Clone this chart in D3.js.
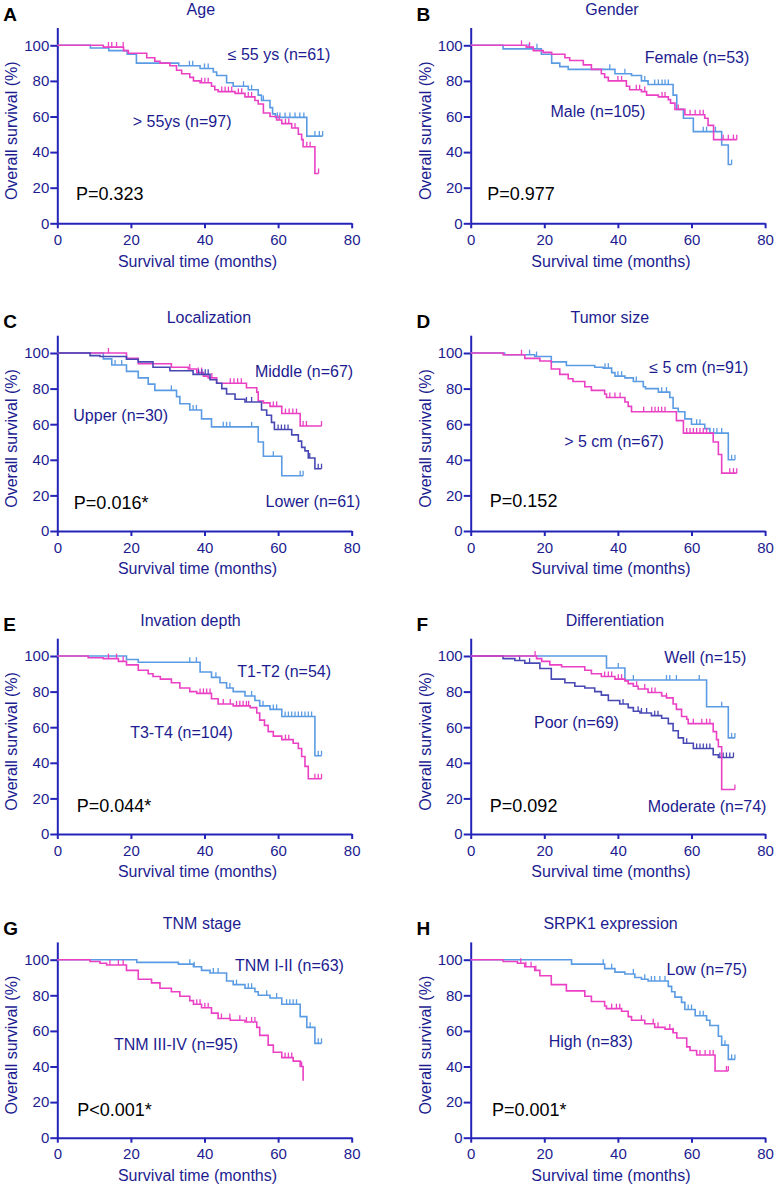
<!DOCTYPE html>
<html><head><meta charset="utf-8">
<script src="https://cdn.jsdelivr.net/npm/d3@7/dist/d3.min.js"></script>
<style>body{margin:0;background:#fff}svg{display:block}text{font-family:"Liberation Sans",Arial,sans-serif}</style>
</head><body>
<script>
// ---------- DATA (drops: [time, survival after drop]; censor: times) ----------
const xTicks = [0, 20, 40, 60, 80];
const yTicks = [0, 20, 40, 60, 80, 100];

const ageLowDrops = [[9,98.5],[14,97],[19,95],[21.5,90],[33,88.5],[38.8,87],[42.4,85],[43.3,83],[46,79],[47.8,77],[51.9,75],[54.6,72],[55.5,69],[57.8,65],[58.5,61.5],[59.3,59.5],[67.8,49]];
const ageLowCensor = [35.9,36.8,40,41,50.6,52.8,56,59.8,60.5,61.9,63.2,64.6,65.9,67,70,71.2,72.1];
const ageHighDrops = [[12.5,99],[18,97],[19.3,95.5],[24.3,93],[26.5,91],[27.9,90],[30.6,88.5],[32.4,86],[33.8,84],[36,82],[37,80],[38.8,79],[41.9,77],[42.8,75],[43.7,74],[48.3,73],[51,71],[53.7,69],[54.6,67],[56,62],[57.8,60],[59.6,58],[61,56],[63.7,53.5],[65.5,50],[66.4,47],[66.8,43],[70,28]];
const ageHighCensor = [13.9,14.8,16.1,17.9,39.2,40.1,41,44.7,45.6,46.5,47.4,49.2,50.1,51.9,52.8,60.3,62,62.9,64.6,67.8,68.7,71];

const femaleDrops = [[8.8,98],[19.2,95],[22,90],[24.2,88],[26.5,86.5],[39.2,84],[43.7,83],[46.4,80],[48.2,78],[55,72],[56,64],[57.8,59],[60.5,51.5],[68.2,44],[70,33]];
const femaleCensor = [15.6,18,37.8,41.9,47.3,50,51,52,52.8,53.7,63.2,64.1,66.5,70.9];
const maleDrops = [[15.1,99],[17,97],[19.7,96],[22,95],[25.6,93],[26.9,91.5],[30.6,89],[32.8,86.5],[35.5,84],[36.4,82],[37.4,80],[42.3,77],[43.2,75],[46.4,74],[47.8,72],[51,71],[53.7,69.5],[54.3,67.5],[55.5,64],[58.2,61],[63.6,59],[64.5,55],[66,47]];
const maleCensor = [13.8,16,40,41,45,45.9,47.3,52,52.8,56.4,59.6,61,62.3,63.2,68.6,70,71.4,72.3];

const middleDrops = [[18.8,97],[22,94],[31,92],[35.6,91],[37.9,89],[39.7,87],[41,86],[43.3,83],[51.4,80.5],[54.2,78],[54.6,73],[56,72],[57.8,70],[61,66],[66,59]];
const middleCensor = [13.9,36,38.3,39.2,42,47,48,49,50,58.7,59.6,62,63,64,65,66.8,67.7,71.8];
const lowerDrops = [[8.9,98.5],[11.6,98],[18.8,96.5],[22,95],[26,92],[30.6,90],[36.9,88],[41.5,85],[43.3,83],[44.7,80],[46,77],[48.3,74],[51,72.5],[55.5,68],[56.9,65],[58.2,61],[59,57],[63.7,54],[65.5,50.5],[66.4,47],[67.3,45],[68.2,41],[70,35]];
const lowerCensor = [38.4,39.3,40.2,41,51.4,52.8,60,60.9,61.8,62.7,68.6,70.9,71.8];
const upperDrops = [[12.5,96.7],[14.8,93.3],[18.8,89.7],[22,86],[24.7,82.5],[26.5,79],[32.4,75.5],[33.3,71.5],[36,68],[39.2,63],[41.9,58.5],[54.6,50],[56,42],[61,31]];
const upperCensor = [15.7,17.5,31,36.9,37.8,45.1,46,46.9,52.8,58.7,66,66.8];

const smallDrops = [[9.2,99],[17.4,98],[21.9,95],[26,93],[33.7,92],[36,91.5],[38.3,89],[39.2,87],[41.9,86],[44.2,84],[46.9,81],[47.5,80],[51,78],[54.1,75],[55,69],[56.4,67],[58.2,63],[60,60],[63.6,57.5],[65,55],[70,40]];
const smallCensor = [16,17.9,36.5,37.4,40,41,45,51.9,53.2,61.4,62.3,66,66.9,68.2,70.9,71.8];
const largeDrops = [[8.8,99],[14.7,97],[18.8,95.5],[21.9,91],[24.2,88],[26.5,85.5],[27.8,84],[31,81],[32.8,79],[36.4,77],[36.9,75],[41.9,72.5],[42.8,70],[43.7,67],[55.9,62],[57.8,55],[65.9,50],[67.3,43],[68.2,32.5]];
const largeCensor = [13.8,37.8,39.2,40.6,47,49.2,50.1,51,51.9,52.8,58.7,59.6,60.5,61.4,62.3,63.2,64.1,70.4,71.4,72.3];

const t12Drops = [[18.8,98],[22,96.5],[38.8,91],[41.9,88],[44.2,85],[46,82],[47.8,80],[51,77.5],[53.7,75],[55,72],[57.8,70],[61,66],[70,44]];
const t12Censor = [36,37.8,43.1,46.9,52.8,55.9,58.7,59.6,61.9,62.8,63.7,64.6,65.5,66.4,67.3,68.2,69.1,70.9,71.8];
const t34Drops = [[8.4,99],[12.5,98.5],[16.6,97],[18.8,95],[22,92],[24.7,90],[26,88.5],[28,87],[31,85],[33.3,82],[36,80],[37.9,79],[41.9,76],[43.7,73],[47.8,72],[52.4,71],[54.2,68],[55,64],[56.3,61],[57.3,57.5],[58.7,55],[61,53],[64.1,51],[65.5,48],[66.4,43.5],[67.3,38],[68.2,31]];
const t34Censor = [13.9,16.1,17.9,38.8,39.7,40.6,41.5,45.1,47,48.7,49.6,50.5,51.4,52,62,62.9,70,70.9,71.8];

const wellDrops = [[36.9,93.3],[41.9,86.5],[64.1,71.5],[70,54]];
const wellCensor = [40.1,44.2,53.2,54.1,55.9,62.1,68.2,70.9,71.8];
const moderateDrops = [[17.9,98.5],[19.3,97],[21.5,95],[24.7,94],[31,92],[32.8,90],[35.5,88.5],[39.2,87],[41.9,86],[42.8,84.5],[44.2,83],[45.5,81.5],[48.2,79.5],[51.9,77.5],[53.2,76.5],[55,73],[55.9,70],[57.3,66],[58.7,64.5],[59.1,62],[65.9,57.5],[66.8,53],[67.3,49],[68.2,25]];
const moderateCensor = [17.5,36.4,37.4,38.3,40.1,41,45.1,47.3,49.2,50.1,53.2,60.5,62.8,64.1,65,71.8];
const poorDrops = [[8.8,98.5],[12,97.5],[14.7,96],[18.8,93],[21.9,87],[25.6,85],[28.3,83],[31,82],[33.7,80],[35.5,78],[37.4,75],[40.5,73],[42.8,71],[44.2,69],[46,68],[49.1,66.5],[51.9,65],[53.7,62],[55,58],[56.4,54],[57.8,51],[60.5,48],[65.9,44.5],[67.3,43]];
const poorCensor = [13.3,16,41.4,45.5,46.4,47.8,50,50.9,58.7,61.4,62.3,63.2,64.1,65,67.7,68.6,69.5,70.4,71.4];

const tnm12Drops = [[21.6,98.5],[32.9,97.5],[37,96],[39.2,94],[41.5,92.5],[46,88],[47.8,86],[51,84],[53.7,82],[54.6,80],[57.8,78.5],[61,75],[66,68],[67.8,62],[70,53]];
const tnm12Censor = [36,37.2,42.4,43.7,48.7,51.9,52.8,56.9,59.6,62.3,63.2,64.1,65,68.7,70.9,71.8];
const tnm34Drops = [[8.9,99],[11.6,98],[13.4,97],[18.8,94],[22,89],[25.6,87],[27.9,84],[31,82],[33.3,79.5],[36,77],[37,75],[39.2,73],[41.9,70],[43.7,67],[47,66],[51,65],[54.2,62],[55,57.5],[57.3,52],[58.7,48],[61,45],[64.1,43],[66,40],[66.8,32]];
const tnm34Censor = [14.3,16.6,17.9,37.9,38.8,40.1,41,44.6,46.9,49.6,51.4,52.8,53.7,61.9,62.8,63.7,66.4];

const lowExpDrops = [[27.4,97.5],[36.4,95],[39.2,93],[41.9,92],[44.6,90],[46.4,89],[48.2,88],[53.7,85],[54.6,82],[55.5,79],[57.3,76],[58.2,72],[61,68.5],[64.1,66],[65,63],[67.3,57],[68.2,52],[70,44]];
const lowExpCensor = [36,38.3,44.2,47.3,49.1,50,51.4,52.8,59.1,60,62.3,63.2,69.1,70.9,71.8];
const highExpDrops = [[8.8,99],[12.7,98],[14.7,96],[17.4,94],[18.8,91],[21.9,86],[26,82.5],[31,79.5],[32.8,76.5],[36.4,74],[36.9,72.5],[41,71],[42.8,68],[43.7,66],[47.3,64],[50,62],[52.8,61],[55,59],[56,56],[58.7,51],[59.6,49],[61.4,46.5],[66.4,37.5]];
const highExpCensor = [13.6,15,16.4,17.7,38.3,39.6,40.5,46.4,49.6,50.9,54.1,55,62.3,63.7,65,65.9,69.5,70];

const panelLetters = ["A","B","C","D","E","F","G","H"];
const panelTitles = ["Age","Gender","Localization","Tumor size","Invation depth","Differentiation","TNM stage","SRPK1 expression"];
const pValues = ["P=0.323","P=0.977","P=0.016*","P=0.152","P=0.044*","P=0.092","P<0.001*","P=0.001*"];

// ---------- STYLE / LAYOUT ----------
const BLUE = "#5a9be3", MAG = "#ea40c4", PURP = "#4848b4";
const AXIS = "#2424b8", NAVY = "#1c1c90";
const FONT = '"Liberation Sans", Arial, sans-serif';

const panels = [
  {curves:[[ageLowDrops,ageLowCensor,BLUE],[ageHighDrops,ageHighCensor,MAG]], titleX:39,
   labels:[["≤ 55 ys (n=61)",46.3,92],["> 55ys (n=97)",20.5,54.1]], pPos:[5.1,13.3]},
  {curves:[[femaleDrops,femaleCensor,BLUE],[maleDrops,maleCensor,MAG]], titleX:38.4,
   labels:[["Female (n=53)",47.3,89.9],["Male (n=105)",21.7,59.6]], pPos:[4.5,13.1]},
  {curves:[[upperDrops,upperCensor,BLUE],[middleDrops,middleCensor,MAG],[lowerDrops,lowerCensor,PURP]], titleX:41.2,
   labels:[["Middle (n=67)",53.7,86.3],["Upper (n=30)",4.35,62],["Lower (n=61)",56.6,13.3]], pPos:[4.5,12.4]},
  {curves:[[smallDrops,smallCensor,BLUE],[largeDrops,largeCensor,MAG]], titleX:37.8,
   labels:[["≤ 5 cm (n=91)",48.5,88.9],["> 5 cm (n=67)",25.4,47]], pPos:[5.2,13.3]},
  {curves:[[t12Drops,t12Censor,BLUE],[t34Drops,t34Censor,MAG]], titleX:36.2,
   labels:[["T1-T2 (n=54)",48.9,88],["T3-T4 (n=104)",19.8,53.8]], pPos:[5.3,12.5]},
  {curves:[[wellDrops,wellCensor,BLUE],[poorDrops,poorCensor,PURP],[moderateDrops,moderateCensor,MAG]], titleX:39.2,
   labels:[["Well (n=15)",52.6,96.2],["Poor (n=69)",17.2,59.4],["Moderate (n=74)",48.1,12.5]], pPos:[5.2,12.5]},
  {curves:[[tnm12Drops,tnm12Censor,BLUE],[tnm34Drops,tnm34Censor,MAG]], titleX:39.3,
   labels:[["TNM I-II (n=63)",48.3,93.6],["TNM III-IV (n=95)",15.4,49.3]], pPos:[5.4,12.2]},
  {curves:[[lowExpDrops,lowExpCensor,BLUE],[highExpDrops,highExpCensor,MAG]], titleX:38,
   labels:[["Low (n=75)",53.2,91.4],["High (n=83)",21.2,50.8]], pPos:[5.8,12.2]}
];

const colX = [57.3, 470.7];
const rowY0 = [223.3, 531, 834, 1137.7];
const PW = 294.4, PH = 178 * 1.1;

const svg = d3.select("body").append("svg").attr("width",776).attr("height",1186);

panels.forEach((p,i)=>{
  const col = i%2, row = Math.floor(i/2);
  const x0 = colX[col], y0 = rowY0[row];
  const g = svg.append("g").attr("transform",`translate(${x0},${y0-PH})`);
  const x = d3.scaleLinear().domain([0,80]).range([0,PW]);
  const y = d3.scaleLinear().domain([0,110]).range([PH,0]);

  // axes
  const ya = g.append("g").call(d3.axisLeft(y).tickValues(yTicks).tickSize(7).tickSizeOuter(0).tickPadding(1));
  const xa = g.append("g").attr("transform",`translate(0,${PH})`)
    .call(d3.axisBottom(x).tickValues(xTicks).tickSize(5).tickSizeOuter(0).tickPadding(6));
  [ya,xa].forEach(a=>{
    a.selectAll("path,line").attr("stroke",AXIS).attr("stroke-width",2);
    a.selectAll("text").attr("fill",NAVY).attr("font-size",15).attr("font-family",FONT);
  });

  // axis titles
  g.append("text").attr("x",x(38.1)).attr("y",PH+43.5).attr("text-anchor","middle")
    .attr("fill",NAVY).attr("font-size",16).text("Survival time (months)");
  g.append("text").attr("transform",`translate(-40,${y(52)}) rotate(-90)`).attr("text-anchor","middle")
    .attr("fill",NAVY).attr("font-size",16).text("Overall survival (%)");

  // title & letter
  g.append("text").attr("x",x(p.titleX)).attr("y",y(100)-30.5).attr("text-anchor","middle")
    .attr("fill",NAVY).attr("font-size",16).text(panelTitles[i]);
  svg.append("text").attr("x",col===0?3.3:416.5).attr("y",y0-178-24.8)
    .attr("fill","#000").attr("font-size",19).attr("font-weight","bold").text(panelLetters[i]);

  // curves
  const line = d3.line().x(d=>x(d[0])).y(d=>y(d[1])).curve(d3.curveStepAfter);
  p.curves.forEach(([drops,censor,color])=>{
    const last = drops[drops.length-1];
    const tEnd = Math.max(last[0], d3.max(censor));
    const pts = [[0,100], ...drops, [tEnd, last[1]]];
    g.append("path").attr("d",line(pts)).attr("fill","none").attr("stroke",color).attr("stroke-width",1.6);
    const survAt = t => { let s=100; drops.forEach(d=>{ if(d[0]<=t) s=d[1]; }); return s; };
    g.selectAll(null).data(censor).enter().append("line")
      .attr("x1",d=>x(d)).attr("x2",d=>x(d))
      .attr("y1",d=>y(survAt(d))).attr("y2",d=>y(survAt(d))-5)
      .attr("stroke",color).attr("stroke-width",1.3);
  });

  // group labels
  p.labels.forEach(([txt,tx,ty])=>{
    g.append("text").attr("x",x(tx)).attr("y",y(ty)).attr("fill",NAVY).attr("font-size",16).text(txt);
  });
  g.append("text").attr("x",x(p.pPos[0])).attr("y",y(p.pPos[1])).attr("fill","#000").attr("font-size",18).text(pValues[i]);
});
</script>
</body></html>
